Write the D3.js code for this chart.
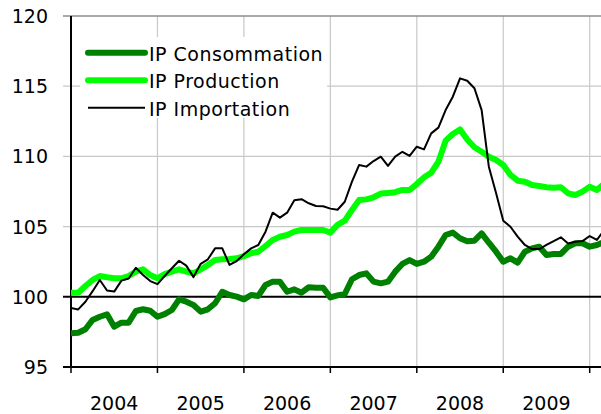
<!DOCTYPE html>
<html>
<head>
<meta charset="utf-8">
<script src="https://cdn.jsdelivr.net/npm/d3@7"></script>
<style>
  body { margin: 0; background: #fff; }
  text { font-family: "DejaVu Sans", Verdana, sans-serif; fill: #000; }
</style>
</head>
<body>
<div id="chart"></div>
<script>
// monthly values, Jan 2004 onwards
var consommation = [97.4, 97.44, 97.69, 98.35, 98.58, 98.75, 97.87, 98.16, 98.16, 98.99, 99.11, 99.01,
  98.58, 98.77, 99.06, 99.82, 99.65, 99.42, 98.94, 99.11, 99.54, 100.36, 100.13, 100.01,
  99.82, 100.13, 100.06, 100.84, 101.08, 101.08, 100.36, 100.53, 100.29, 100.68, 100.65, 100.65,
  99.96, 100.1, 100.2, 101.25, 101.55, 101.67, 101.08, 100.96, 101.08, 101.79, 102.34, 102.62,
  102.34, 102.5, 102.86, 103.57, 104.4, 104.57, 104.17, 103.95, 104.0, 104.52, 103.85, 103.21,
  102.5, 102.74, 102.43, 103.21, 103.45, 103.57, 102.98, 103.05, 103.05, 103.57, 103.81, 103.81,
  103.57, 103.69, 103.9];
var production = [100.29, 100.29, 100.77, 101.2, 101.48, 101.39, 101.32, 101.32, 101.48, 101.79, 101.96, 101.55,
  101.32, 101.62, 101.79, 101.96, 101.79, 101.67, 101.95, 102.26, 102.62, 102.67, 102.69, 102.74,
  102.9, 103.1, 103.21, 103.62, 104.05, 104.28, 104.4, 104.64, 104.76, 104.76, 104.76, 104.76,
  104.57, 105.13, 105.42, 106.18, 106.89, 106.94, 107.09, 107.35, 107.4, 107.45, 107.61, 107.61,
  108.03, 108.51, 108.84, 109.62, 111.12, 111.6, 111.92, 111.2, 110.65, 110.33, 109.98, 109.74,
  109.39, 108.68, 108.27, 108.2, 107.96, 107.89, 107.8, 107.77, 107.8, 107.37, 107.25, 107.49,
  107.84, 107.61, 108.05];
var importation = [99.2, 99.1, 99.65, 100.4, 101.2, 100.45, 100.37, 101.15, 101.3, 102.07, 101.55, 101.12,
  100.9, 101.48, 102.03, 102.57, 102.22, 101.4, 102.35, 102.67, 103.45, 103.45, 102.27, 102.55,
  103.03, 103.45, 103.69, 104.64, 105.99, 105.64, 105.99, 106.88, 106.95, 106.66, 106.47, 106.45,
  106.28, 106.2, 106.77, 108.2, 109.39, 109.27, 109.67, 109.98, 109.32, 109.98, 110.33, 110.03,
  110.69, 110.5, 111.64, 112.05, 113.3, 114.25, 115.56, 115.39, 114.85, 113.3, 109.27, 107.4,
  105.42, 104.99, 104.28, 103.69, 103.4, 103.4, 103.69, 103.97, 104.24, 103.8, 103.92, 103.97,
  104.33, 104.05, 104.75];
var years = ["2004", "2005", "2006", "2007", "2008", "2009"];
var yTicks = [95, 100, 105, 110, 115, 120];
var seriesNames = ["IP Consommation", "IP Production", "IP Importation"];

(function(){
    var width = 601,
        height = 414,
        plotLeft = 71,
        plotRight = 601,
        plotTop = 16,
        plotBottom = 367;

    var x = d3.scaleLinear().domain([0, 72]).range([plotLeft, 589.7]);
    var y = d3.scaleLinear().domain([95, 120]).range([plotBottom, plotTop]);

    var svg = d3.select("#chart").append("svg")
        .attr("width", width)
        .attr("height", height);

    svg.append("defs").append("clipPath").attr("id", "plot-clip")
        .append("rect")
        .attr("x", plotLeft).attr("y", 0)
        .attr("width", plotRight - plotLeft).attr("height", height);

    // horizontal grid
    svg.selectAll(".hgrid")
        .data([105, 110, 115])
        .enter().append("line")
        .attr("class", "hgrid")
        .attr("x1", plotLeft - 8).attr("x2", plotRight)
        .attr("y1", function(d){ return y(d); })
        .attr("y2", function(d){ return y(d); })
        .attr("stroke", "#c8c8c8")
        .attr("stroke-width", 1.2);

    // vertical grid at year boundaries
    svg.selectAll(".vgrid")
        .data(d3.range(1, years.length + 1))
        .enter().append("line")
        .attr("class", "vgrid")
        .attr("x1", function(d){ return x(d * 12); })
        .attr("x2", function(d){ return x(d * 12); })
        .attr("y1", plotTop).attr("y2", plotBottom)
        .attr("stroke", "#c8c8c8")
        .attr("stroke-width", 1.2);

    // top border
    svg.append("line")
        .attr("x1", plotLeft - 8).attr("x2", plotRight)
        .attr("y1", y(120)).attr("y2", y(120))
        .attr("stroke", "#8c8c8c")
        .attr("stroke-width", 1.5);

    // 100 baseline
    svg.append("line")
        .attr("x1", plotLeft - 8).attr("x2", plotRight)
        .attr("y1", y(100)).attr("y2", y(100))
        .attr("stroke", "#000")
        .attr("stroke-width", 2);

    // axes
    svg.append("line")
        .attr("x1", plotLeft).attr("x2", plotLeft)
        .attr("y1", plotTop).attr("y2", plotBottom)
        .attr("stroke", "#000").attr("stroke-width", 2);

    svg.append("line")
        .attr("x1", plotLeft - 8).attr("x2", plotRight)
        .attr("y1", plotBottom).attr("y2", plotBottom)
        .attr("stroke", "#000").attr("stroke-width", 2);

    svg.selectAll(".xtick")
        .data(d3.range(0, years.length + 1))
        .enter().append("line")
        .attr("class", "xtick")
        .attr("x1", function(d){ return x(d * 12); })
        .attr("x2", function(d){ return x(d * 12); })
        .attr("y1", plotBottom).attr("y2", plotBottom + 6)
        .attr("stroke", "#000").attr("stroke-width", 1.5);

    svg.selectAll(".ylabel")
        .data(yTicks)
        .enter().append("text")
        .attr("class", "ylabel")
        .attr("x", 48)
        .attr("y", function(d){ return y(d) + 7; })
        .attr("text-anchor", "end")
        .style("font-size", "19px")
        .text(function(d){ return d; });

    svg.selectAll(".xlabel")
        .data(years)
        .enter().append("text")
        .attr("class", "xlabel")
        .attr("x", function(d, i){ return x(i * 12 + 6); })
        .attr("y", 410)
        .attr("text-anchor", "middle")
        .style("font-size", "19px")
        .text(function(d){ return d; });

    // series
    var series = [
        { name: seriesNames[0], values: consommation, color: "#008000", w: 6 },
        { name: seriesNames[1], values: production, color: "#00ff00", w: 6 },
        { name: seriesNames[2], values: importation, color: "#000000", w: 2 }
    ];

    var line = d3.line()
        .x(function(d, i){ return x(i); })
        .y(function(d){ return y(d); });

    // legend box hides the grid behind it
    svg.append("rect")
        .attr("x", 80).attr("y", 37)
        .attr("width", 247).attr("height", 81)
        .attr("fill", "#fff");

    svg.append("g")
        .attr("clip-path", "url(#plot-clip)")
        .selectAll(".series")
        .data(series)
        .enter().append("path")
        .attr("class", "series")
        .attr("d", function(d){ return line(d.values); })
        .attr("fill", "none")
        .attr("stroke", function(d){ return d.color; })
        .attr("stroke-width", function(d){ return d.w; })
        .attr("stroke-linejoin", "round");

    // legend
    var legend = svg.selectAll(".legend")
        .data(series)
        .enter().append("g")
        .attr("class", "legend")
        .attr("transform", function(d, i){ return "translate(88," + (52.7 + i * 27.5) + ")"; });

    legend.append("line")
        .attr("x1", 0).attr("x2", 57)
        .attr("y1", 0).attr("y2", 0)
        .attr("stroke", function(d){ return d.color; })
        .attr("stroke-width", function(d){ return d.w; })
        .attr("stroke-linecap", function(d){ return d.w > 3 ? "round" : "butt"; });

    legend.append("text")
        .attr("x", 61)
        .attr("y", 8)
        .style("font-size", "19px")
        .style("letter-spacing", "0.5px")
        .text(function(d){ return d.name; });
})();
</script>
</body>
</html>
